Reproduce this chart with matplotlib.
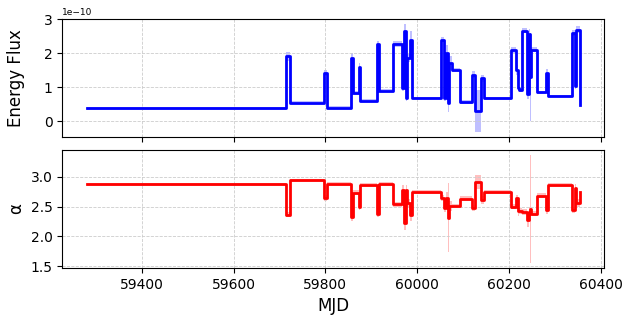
import matplotlib
matplotlib.use("Agg")
import matplotlib.pyplot as plt
from matplotlib.ticker import MultipleLocator
import numpy as np

# block start times (MJD); the last entry closes the final block
t_start = [59280, 59715, 59723, 59798, 59803, 59855, 59860, 59873, 59876, 59912,
           59916, 59947, 59967, 59972, 59975, 59979, 59985, 59989, 60051, 60059,
           60064, 60068, 60070, 60075, 60093, 60120, 60127, 60140, 60145, 60204,
           60216, 60219, 60222, 60228, 60240, 60244, 60246, 60248, 60262, 60281,
           60285, 60338, 60344, 60347, 60354]

# energy flux (x1e-10) per block, last value is the end point
flux = [0.37, 1.90, 0.54, 1.41, 0.39, 1.85, 0.82, 1.58, 0.60, 2.26,
        0.89, 2.27, 0.97, 2.66, 0.68, 1.85, 2.39, 0.68, 2.39, 0.68,
        2.00, 0.53, 1.71, 1.51, 0.56, 1.36, 0.30, 1.26, 0.67, 2.09,
        1.51, 0.97, 0.90, 2.66, 0.80, 2.55, 1.30, 2.10, 0.84, 1.41,
        0.74, 2.59, 1.04, 2.69, 0.48]
flux_err = [0.04, 0.12, 0.04, 0.10, 0.04, 0.15, 0.06, 0.12, 0.05, 0.10,
            0.05, 0.08, 0.10, 0.20, 0.10, 0.12, 0.25, 0.04, 0.08, 0.08,
            0.25, 0.25, 0.20, 0.06, 0.05, 0.10, 0.61, 0.10, 0.04, 0.08,
            0.15, 0.10, 0.06, 0.08, 0.15, 0.15, 1.30, 0.08, 0.05, 0.12,
            0.04, 0.08, 0.10, 0.10, 0.05]

# photon index alpha per block
alpha = [2.87, 2.36, 2.94, 2.64, 2.88, 2.33, 2.73, 2.50, 2.86, 2.37,
         2.88, 2.54, 2.78, 2.22, 2.78, 2.56, 2.35, 2.74, 2.64, 2.47,
         2.64, 2.31, 2.51, 2.51, 2.63, 2.47, 2.91, 2.61, 2.74, 2.50,
         2.64, 2.42, 2.42, 2.40, 2.28, 2.40, 2.46, 2.38, 2.68, 2.44,
         2.86, 2.44, 2.81, 2.56, 2.75]
alpha_err = [0.03, 0.04, 0.03, 0.05, 0.03, 0.08, 0.04, 0.06, 0.03, 0.05,
             0.03, 0.04, 0.08, 0.12, 0.08, 0.06, 0.10, 0.03, 0.05, 0.06,
             0.10, 0.58, 0.08, 0.04, 0.04, 0.05, 0.12, 0.06, 0.03, 0.04,
             0.06, 0.08, 0.05, 0.05, 0.12, 0.10, 0.90, 0.04, 0.04, 0.06,
             0.03, 0.05, 0.07, 0.07, 0.03]

t = np.array(t_start, dtype=float)
f = np.array(flux) * 1e-10
fe = np.array(flux_err) * 1e-10
a = np.array(alpha)
ae = np.array(alpha_err)

fig, (ax1, ax2) = plt.subplots(2, 1, figsize=(6.34, 3.17), dpi=100, sharex=True)
fig.subplots_adjust(left=0.098, right=0.953, top=0.94, bottom=0.155, hspace=0.11)

# flux panel
ax1.fill_between(t, f - fe, f + fe, step='post', color='blue', alpha=0.25, lw=0)
ax1.step(t, f, where='post', color='blue', lw=2.0)
ax1.set_ylim(top=3e-10)
ax1.yaxis.set_major_locator(MultipleLocator(1e-10))
ax1.set_ylabel('Energy Flux', fontsize=12)
ax1.yaxis.get_offset_text().set_fontsize(6.5)

# alpha panel
ax2.fill_between(t, a - ae, a + ae, step='post', color='red', alpha=0.25, lw=0)
ax2.step(t, a, where='post', color='red', lw=2.0)
ax2.yaxis.set_major_locator(MultipleLocator(0.5))
ax2.set_ylabel('α', fontsize=12)
ax2.set_xlabel('MJD', fontsize=12)
ax2.set_xticks([59400, 59600, 59800, 60000, 60200, 60400])

for ax in (ax1, ax2):
    ax.grid(True, ls='--', color='#cccccc', lw=0.6)
    ax.tick_params(labelsize=10)

fig.align_ylabels([ax1, ax2])

plt.savefig('out.png', dpi=100)
